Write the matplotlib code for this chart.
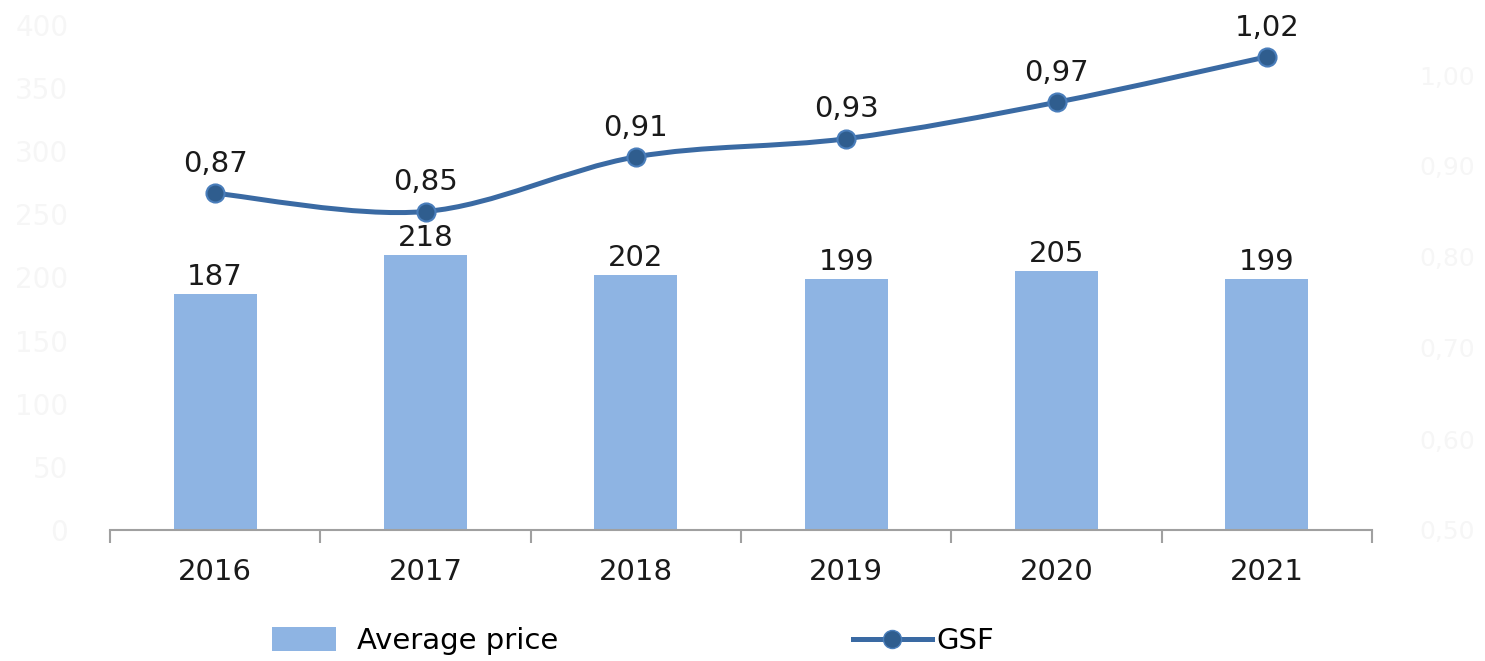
import matplotlib.pyplot as plt
from matplotlib.path import Path
from matplotlib.patches import PathPatch, Patch
from matplotlib.lines import Line2D

plt.rcParams['font.family'] = ['DejaVu Sans']

years = ["2016", "2017", "2018", "2019", "2020", "2021"]
avg_price = [187, 218, 202, 199, 205, 199]
gsf = [0.87, 0.85, 0.91, 0.93, 0.97, 1.02]

left_ticks = [0, 50, 100, 150, 200, 250, 300, 350, 400]
right_ticks = [0.5, 0.6, 0.7, 0.8, 0.9, 1.0]

bar_color = "#8eb4e3"
line_color = "#3a6aa3"
marker_color = "#2f5d8e"
faint = "#f6f6f6"

fig = plt.figure(figsize=(14.85, 6.61), dpi=100)
ax = fig.add_axes([110 / 1485, 1 - 530 / 661, 1262 / 1485, 505 / 661])
ax2 = ax.twinx()

x = list(range(len(years)))
ax.bar(x, avg_price, width=0.395, color=bar_color, zorder=2)
for xi, v in zip(x, avg_price):
    ax.annotate(str(v), (xi, v), xytext=(0, 2), textcoords="offset points",
                ha="center", va="bottom", fontsize=21, color="#1a1a1a")

ax.set_xlim(-0.5, len(years) - 0.5)
ax.set_ylim(0, 400)
ax.set_xticks(x)
ax.set_xticklabels(years, fontsize=21, color="#1a1a1a")
ax.set_xticks([i - 0.5 for i in range(len(years) + 1)], minor=True)
ax.tick_params(axis="x", which="major", length=0, pad=20)
ax.tick_params(axis="x", which="minor", length=9, width=1.5, color="#a0a0a0")
ax.set_yticks(left_ticks)
ax.set_yticklabels([str(t) for t in left_ticks], fontsize=20, color=faint)
ax.tick_params(axis="y", length=0, pad=30)
for s in ["top", "left", "right"]:
    ax.spines[s].set_visible(False)
ax.spines["bottom"].set_color("#a0a0a0")
ax.spines["bottom"].set_linewidth(1.5)

# smoothed GSF line (Catmull-Rom segments as cubic Bezier curves)
pts = list(zip(x, gsf))
verts = [pts[0]]
codes = [Path.MOVETO]
for i in range(len(pts) - 1):
    p0 = pts[i - 1] if i > 0 else pts[i]
    p1 = pts[i]
    p2 = pts[i + 1]
    p3 = pts[i + 2] if i + 2 < len(pts) else pts[i + 1]
    c1 = (p1[0] + (p2[0] - p0[0]) / 6, p1[1] + (p2[1] - p0[1]) / 6)
    c2 = (p2[0] - (p3[0] - p1[0]) / 6, p2[1] - (p3[1] - p1[1]) / 6)
    verts += [c1, c2, p2]
    codes += [Path.CURVE4] * 3
ax2.add_patch(PathPatch(Path(verts, codes), facecolor="none", edgecolor=line_color,
                        lw=3.6, capstyle="round", zorder=3))
ax2.plot(x, gsf, linestyle="none", marker="o", markersize=13,
         markerfacecolor=marker_color, markeredgecolor="#4a7ebb",
         markeredgewidth=1.5, zorder=4)
for xi, v in zip(x, gsf):
    ax2.annotate(f"{v:.2f}".replace(".", ","), (xi, v), xytext=(0, 11),
                 textcoords="offset points", ha="center", va="bottom",
                 fontsize=21, color="#1a1a1a")

ax2.set_ylim(0.5, 0.5 + 505 / 910)
ax2.set_yticks(right_ticks)
ax2.set_yticklabels([f"{t:.2f}".replace(".", ",") for t in right_ticks],
                    fontsize=18, color=faint)
ax2.tick_params(axis="y", length=0, pad=34)
for s in ["top", "left", "right", "bottom"]:
    ax2.spines[s].set_visible(False)

h_bar = Patch(facecolor=bar_color, edgecolor="none")
h_line = Line2D([], [], color=line_color, lw=3.6, marker="o", markersize=13,
                markerfacecolor=marker_color, markeredgecolor="#4a7ebb")
fig.legend([h_bar], ["Average price"], loc="center left", frameon=False,
           bbox_to_anchor=(272 / 1485, 1 - 641 / 661), fontsize=21,
           handlelength=2.2, handleheight=0.85, handletextpad=0.7,
           borderpad=0, borderaxespad=0)
fig.legend([h_line], ["GSF"], loc="center left", frameon=False,
           bbox_to_anchor=(853 / 1485, 1 - 641 / 661), fontsize=21,
           handlelength=2.7, handletextpad=0.15, borderpad=0, borderaxespad=0)

fig.savefig("out.png", dpi=100, facecolor="white")
